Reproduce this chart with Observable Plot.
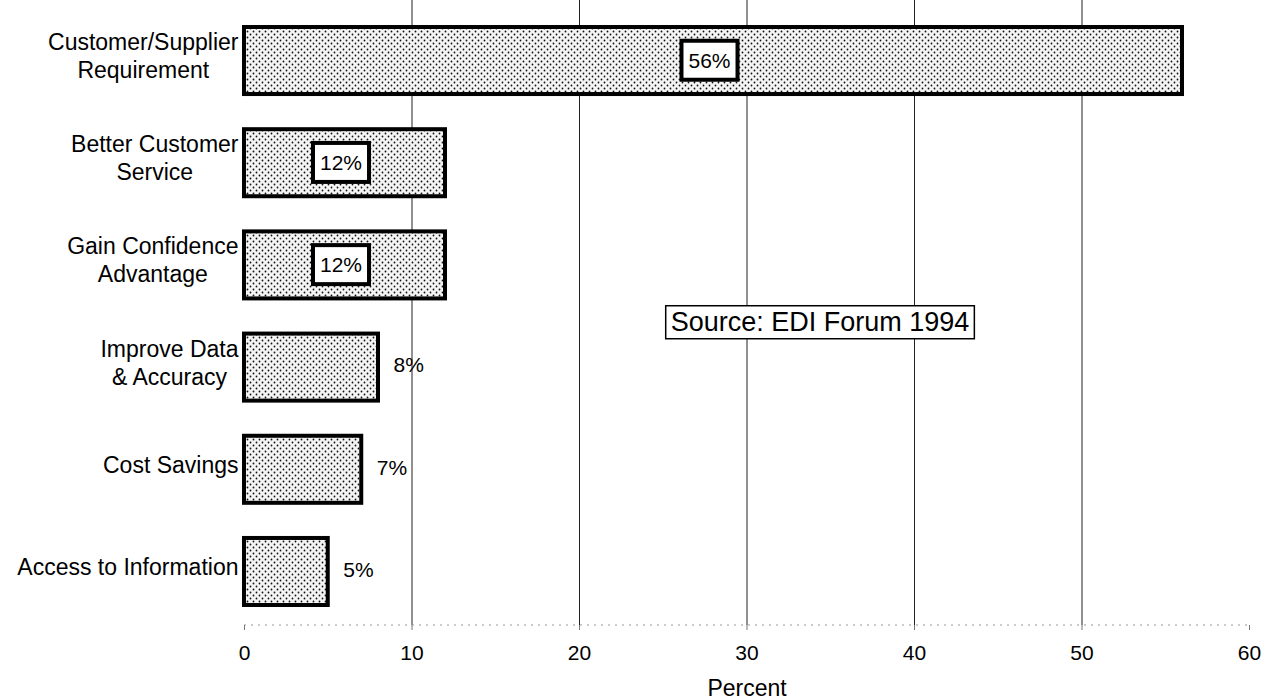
<!DOCTYPE html>
<html>
<head>
<meta charset="utf-8">
<script src="https://cdn.jsdelivr.net/npm/d3@7"></script>
<script src="https://cdn.jsdelivr.net/npm/@observablehq/plot@0.6"></script>
<style>
  html, body { margin: 0; padding: 0; background: #fff; }
  #chart svg { display: block; }
</style>
</head>
<body>
<div id="chart"></div>
<script>
// Reasons for adopting EDI, share of respondents (percent)
const categories = [
  "Customer/Supplier\nRequirement",
  "Better Customer\nService",
  "Gain Confidence\nAdvantage",
  "Improve Data\n& Accuracy",
  "Cost Savings",
  "Access to Information"
];
const percents = [56, 12, 12, 8, 7, 5];
// large values carry their label inside the bar, in a framed box
const boxedLabel = [true, true, true, false, false, false];
const xTicks = [0, 10, 20, 30, 40, 50, 60];
const gridTicks = [10, 20, 30, 40, 50];
const axisTitle = "Percent";
const sourceNote = "Source: EDI Forum 1994";

const rows = categories.map((category, i) => ({
  category,
  value: percents[i],
  label: `${percents[i]}%`,
  boxed: boxedLabel[i]
}));

const FONT = "'Liberation Sans', Arial, Helvetica, sans-serif";
const W = 1262, H = 700;
const marginLeft = 244, marginRight = 13, marginTop = 0, marginBottom = 75;

// measure the widest line of a label so multi-line labels are centred
// on themselves while their right edge sits against the bars
const ctx = document.createElement("canvas").getContext("2d");
ctx.font = `23px ${FONT}`;
const blockWidth = (s) => Math.max(...s.split("\n").map((l) => ctx.measureText(l).width));

const categoryLabels = categories.map((c) =>
  Plot.text([c], {
    x: 0,
    y: (d) => d,
    text: (d) => d,
    textAnchor: "middle",
    dx: -(6 + blockWidth(c) / 2),
    dy: -6,
    fontSize: 23,
    lineHeight: 1.22,
    fill: "#000"
  })
);

const plot = Plot.plot({
  width: W,
  height: H,
  marginLeft, marginRight, marginTop, marginBottom,
  style: { fontFamily: FONT, background: "#fff", color: "#000", overflow: "visible" },
  x: { domain: [0, 60] },
  y: { domain: categories, range: [27, 605], paddingInner: 0.344, paddingOuter: 0, round: false, axis: null },
  marks: [
    Plot.ruleX(gridTicks, { stroke: "#222", strokeWidth: 1 }),
    Plot.axisX(xTicks, { tickSize: 5, tickPadding: 15, fontSize: 21, stroke: "#777", fill: "#000", label: null }),
    Plot.text([axisTitle], { frameAnchor: "bottom", lineAnchor: "middle", dy: 63, fontSize: 23, fill: "#000" }),
    Plot.barX(rows, { x: "value", y: "category", fill: "url(#dots)", stroke: "#000", strokeWidth: 4 }),
    ...categoryLabels,
    Plot.text(rows.filter((d) => d.boxed), {
      x: (d) => d.value / 2, y: "category", text: "label",
      fontSize: 21, fill: "#000", dx: -4, className: "boxed-label"
    }),
    Plot.text(rows.filter((d) => !d.boxed), {
      x: "value", y: "category", text: "label",
      textAnchor: "start", dx: 15, dy: -2, fontSize: 21, fill: "#000"
    }),
    Plot.text([sourceNote], {
      x: () => 34.36, y: () => categories[3], text: (d) => d,
      dy: -45, fontSize: 27, fill: "#000", className: "source-note"
    })
  ]
});

document.getElementById("chart").appendChild(plot);

const ns = "http://www.w3.org/2000/svg";

// dotted fill used by the bars
const defs = document.createElementNS(ns, "defs");
defs.innerHTML = `
  <pattern id="dots" width="6" height="6" patternUnits="userSpaceOnUse">
    <rect width="6" height="6" fill="#f4f4f4"></rect>
    <circle cx="1.5" cy="1.5" r="0.9" fill="#111"></circle>
    <circle cx="4.5" cy="4.5" r="0.9" fill="#111"></circle>
  </pattern>`;
plot.insertBefore(defs, plot.firstChild);

// faint baseline along the bottom of the frame
const xs = plot.scale("x");
const base = document.createElementNS(ns, "line");
base.setAttribute("x1", xs.apply(0));
base.setAttribute("x2", xs.apply(60));
base.setAttribute("y1", H - marginBottom);
base.setAttribute("y2", H - marginBottom);
base.setAttribute("stroke", "#999");
base.setAttribute("stroke-width", "1.2");
base.setAttribute("stroke-dasharray", "2 5");
const axisGroup = plot.querySelector("g[aria-label='x-axis tick']");
plot.insertBefore(base, axisGroup || plot.lastChild);

// frame the boxed labels and the source note with white rectangles
function frameText(selector, padX, padY, strokeWidth) {
  plot.querySelectorAll(`${selector} text`).forEach((t) => {
    const b = t.getBBox();
    const r = document.createElementNS(ns, "rect");
    r.setAttribute("x", b.x - padX);
    r.setAttribute("y", b.y - padY);
    r.setAttribute("width", b.width + 2 * padX);
    r.setAttribute("height", b.height + 2 * padY);
    r.setAttribute("fill", "#fff");
    r.setAttribute("stroke", "#000");
    r.setAttribute("stroke-width", strokeWidth);
    const tr = t.getAttribute("transform");
    if (tr) r.setAttribute("transform", tr);
    t.parentNode.insertBefore(r, t);
  });
}
frameText(".boxed-label", 7, 8, 4);
frameText(".source-note", 5, 1.5, 1.5);
</script>
</body>
</html>
